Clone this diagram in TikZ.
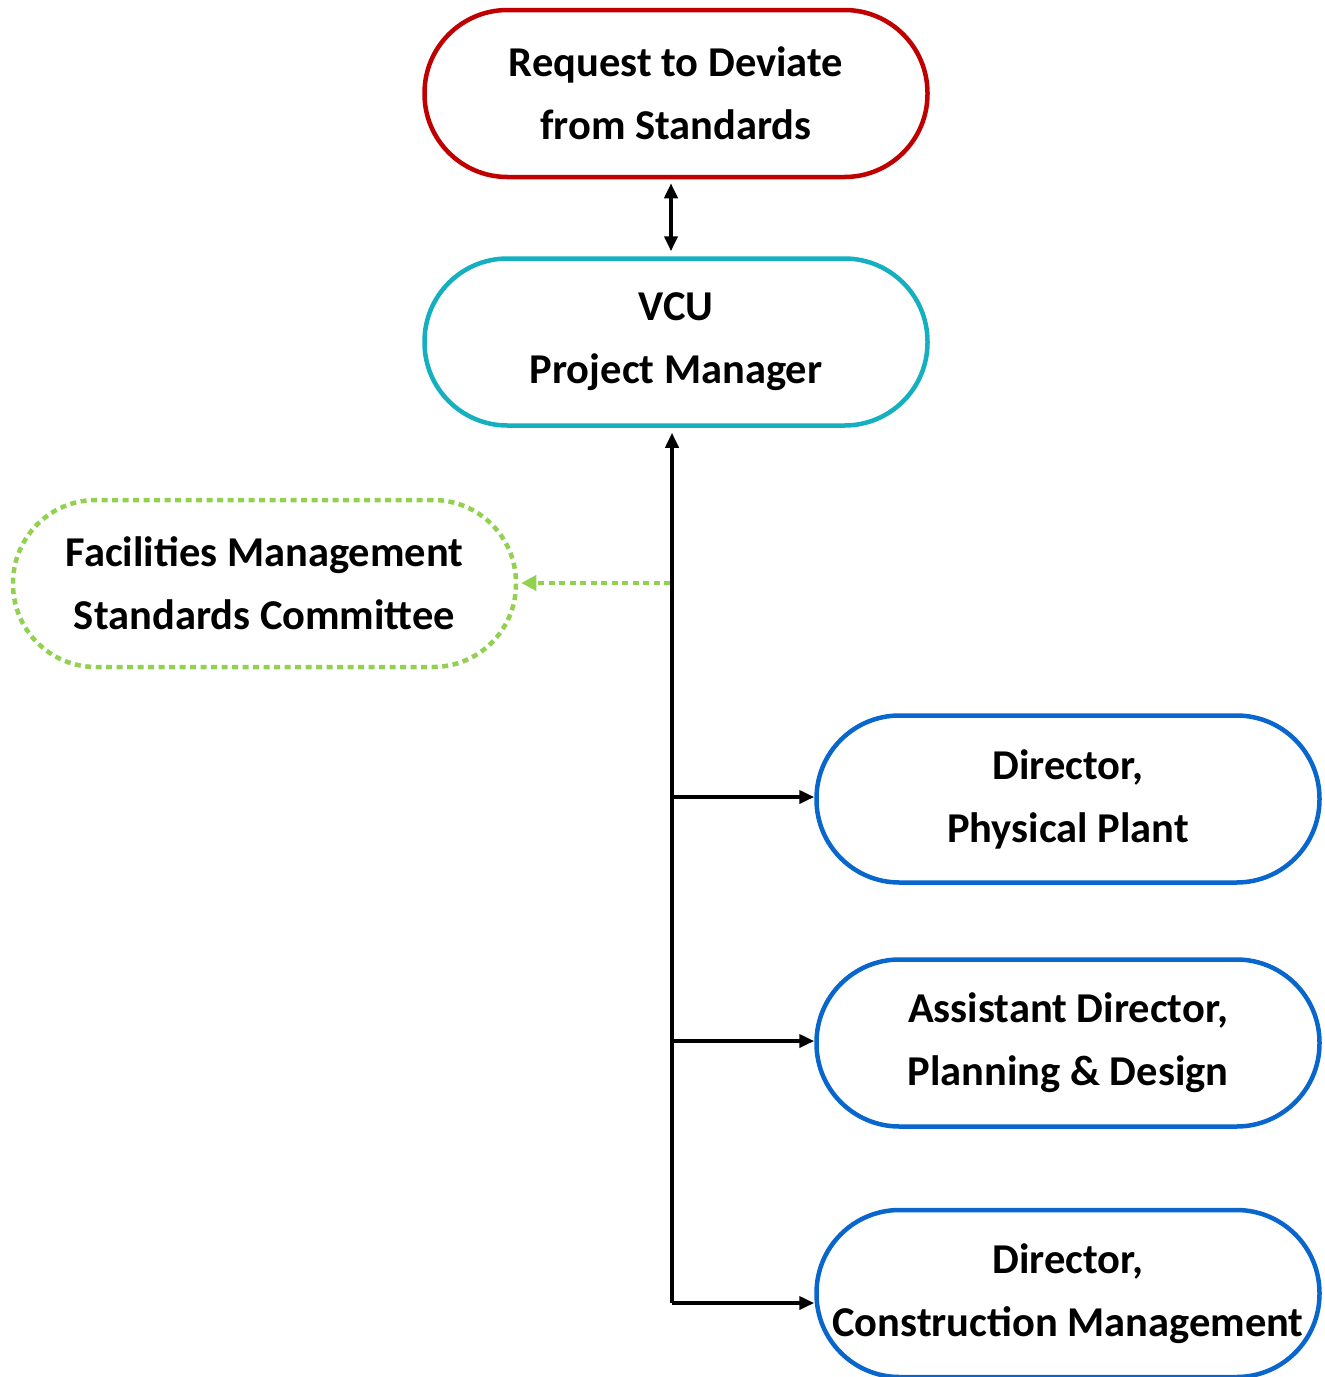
\documentclass[tikz,border=0pt]{standalone}
\usepackage{fontspec}
\setmainfont{Carlito}
\usetikzlibrary{arrows.meta}
\definecolor{cred}{HTML}{C00000}
\definecolor{cteal}{HTML}{14B0BF}
\definecolor{cgreen}{HTML}{92D050}
\definecolor{cblue}{HTML}{0866CC}
\tikzset{
  pill/.style={draw, line width=4.5pt, minimum width=503pt, minimum height=167pt,
    rounded corners=83pt, align=center, font=\fontsize{42.5}{63}\selectfont\bfseries, inner sep=0pt},
  conn/.style={line width=4pt, -{Triangle[length=15pt,width=13pt]}},
  dconn/.style={line width=4pt, {Triangle[length=15pt,width=13pt]}-{Triangle[length=15pt,width=13pt]}},
  dotconn/.style={cgreen, line width=4.5pt, dash pattern=on 6pt off 4.5pt, -{Triangle[length=15pt,width=15pt]}},
}
\begin{document}
\begin{tikzpicture}[x=1pt,y=-1pt]
\useasboundingbox (0,0) rectangle (1325,1377);
\node[pill, draw=cred] (req) at (676,93.5) {Request to Deviate\\from Standards};
\node[pill, draw=cteal] (pm) at (676,342) {VCU\\Project Manager};
\node[pill, draw=cgreen, dash pattern=on 6pt off 4.5pt] (fm) at (264.5,583.5) {Facilities Management\\Standards Committee};
\node[pill, draw=cblue] (dpp) at (1068,799) {Director,\\Physical Plant};
\node[pill, draw=cblue] (apd) at (1068,1043) {Assistant Director,\\Planning \& Design};
\node[pill, draw=cblue] (dcm) at (1068,1293.5) {Director,\\Construction Management};
\coordinate (bot) at (672,1303);
\coordinate (jdot) at (672,583);
\coordinate (j1) at (672,797);
\coordinate (j2) at (672,1041);
\draw[dconn, shorten <=4pt, shorten >=5pt] (req.south -| 671,0) -- (pm.north -| 671,0);
\draw[conn, shorten >=5pt] (bot) -- (pm.south -| bot);
\draw[conn] (j1) -- (dpp.west |- j1);
\draw[conn] (j2) -- (apd.west |- j2);
\draw[conn] (bot) -- (dcm.west |- bot);
\draw[dotconn, shorten >=3pt] (670,583) -- (fm.east |- jdot);
\end{tikzpicture}
\end{document}
